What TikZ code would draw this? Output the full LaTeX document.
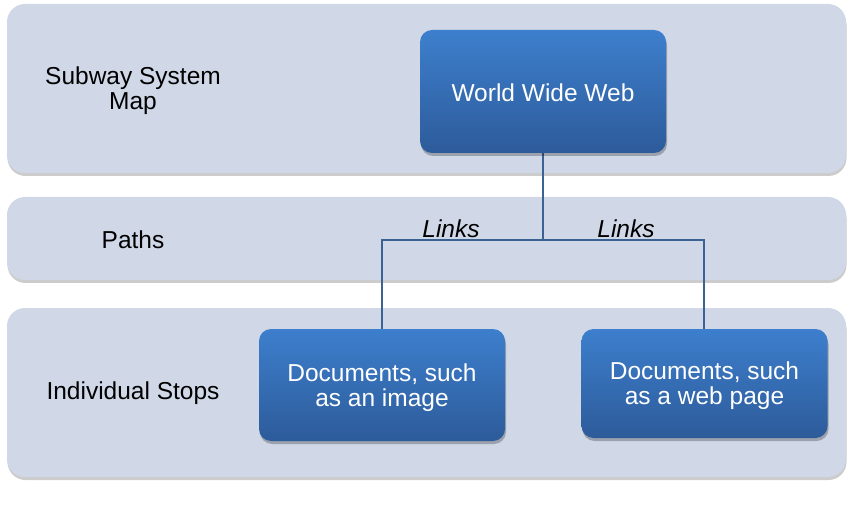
\documentclass[tikz,border=0pt]{standalone}
\usepackage{fontspec}
\setmainfont{Liberation Sans}
\usetikzlibrary{shadows}
\definecolor{bandfill}{RGB}{208,216,232}
\definecolor{boxtop}{RGB}{61,127,205}
\definecolor{boxbot}{RGB}{45,91,154}
\definecolor{linkcol}{RGB}{58,98,147}
\tikzset{
  band/.style={draw=none, fill=bandfill, rounded corners=18pt,
    drop shadow={shadow xshift=0.5pt, shadow yshift=-3pt, opacity=.2, fill=black}},
  bluebox/.style={draw=none, rounded corners=12pt, top color=boxtop, bottom color=boxbot,
    drop shadow={shadow xshift=1pt, shadow yshift=-3pt, opacity=.25, fill=black},
    inner sep=0pt},
  boxtext/.style={text=white, align=center, inner sep=0pt,
    font=\fontsize{24.5}{25.5}\selectfont},
  bandlabel/.style={align=center, text=black, font=\fontsize{24.5}{25.5}\selectfont},
  linklabel/.style={text=black, font=\fontsize{24.5}{25.5}\selectfont\itshape},
  conn/.style={draw=linkcol, line width=2pt}
}
\begin{document}
\begin{tikzpicture}[x=1pt, y=-1pt]
\useasboundingbox (0,0) rectangle (853,518);
% bands
\path[band] (7,4) rectangle (846,173);
\path[band] (7,197) rectangle (846,280);
\path[band] (7,308) rectangle (846,477);
% band labels
\node[bandlabel] (lmap) at (133,90.5) {Subway System\\Map};
\node[bandlabel] (lpaths) at (133,240) {Paths};
\node[bandlabel] (lstops) at (133,393) {Individual Stops};
% connectors
\coordinate (j) at (543,240);
\coordinate (wb) at (543,153);
\coordinate (d1t) at (382,329);
\coordinate (d2t) at (704,329);
\draw[conn] (wb) -- (j);
\draw[conn] (d1t) |- (j) -| (d2t);
% boxes
\node[bluebox, minimum width=246pt, minimum height=123pt] (www) at (543,91.5) {};
\node[bluebox, minimum width=246pt, minimum height=112pt] (d1) at (382,385) {};
\node[bluebox, minimum width=246pt, minimum height=109pt] (d2) at (704.5,383.5) {};
\node[boxtext] (twww) at (543,92.5) {World Wide Web};
\node[boxtext] (td1) at (382,387.5) {Documents, such\\as an image};
\node[boxtext] (td2) at (704.5,385.5) {Documents, such\\as a web page};
% link labels
\node[linklabel] (l1) at (451,229) {Links};
\node[linklabel] (l2) at (626,229) {Links};
\end{tikzpicture}
\end{document}
